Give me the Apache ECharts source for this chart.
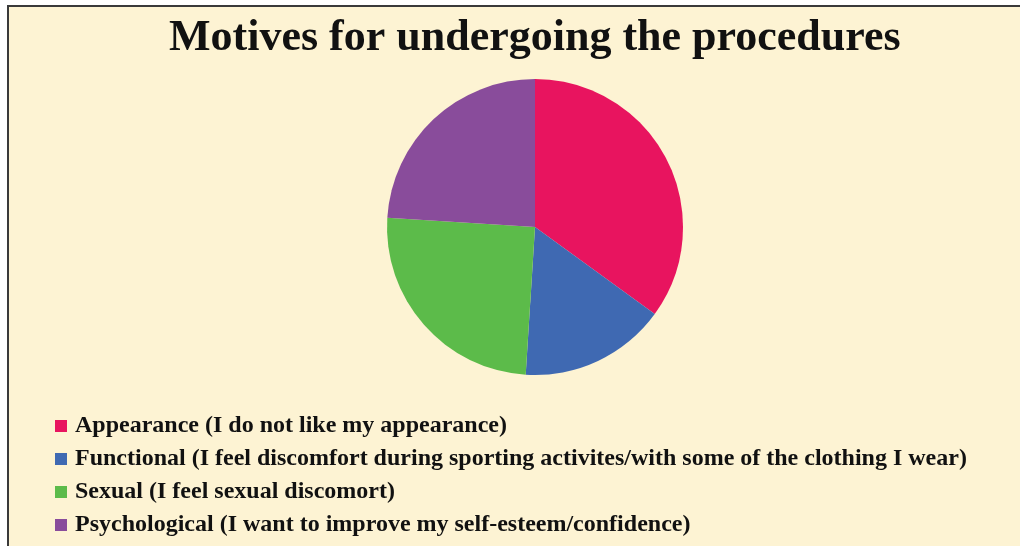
<!DOCTYPE html>
<html>
<head>
<meta charset="utf-8">
<script src="https://cdn.jsdelivr.net/npm/echarts@6/dist/echarts.min.js"></script>
<style>
html,body{margin:0;padding:0;background:#ffffff;}
#chart{width:1020px;height:546px;}
</style>
</head>
<body>
<div id="chart"></div>
<script>
const titleText = 'Motives for undergoing the procedures';
const categories = [
  'Appearance (I do not like my appearance)',
  'Functional (I feel discomfort during sporting activites/with some of the clothing I wear)',
  'Sexual (I feel sexual discomort)',
  'Psychological (I want to improve my self-esteem/confidence)'
];
const values = [35, 16, 25, 24];
const colors = ['#E8145F', '#3F69B2', '#5CBB4A', '#894C9B'];

const chart = echarts.init(document.getElementById('chart'), null, {renderer: 'canvas'});
chart.setOption({
  animation: false,
  backgroundColor: '#ffffff',
  color: colors,
  graphic: [{
    type: 'rect',
    z: -10,
    shape: {x: 8, y: 6, width: 1030, height: 560},
    style: {fill: '#FDF3D3', stroke: '#3a3a3a', lineWidth: 2}
  }],
  title: {
    text: titleText,
    left: 164,
    top: 12,
    textStyle: {
      fontFamily: 'Liberation Serif',
      fontWeight: 'bold',
      fontSize: 44,
      color: '#111111'
    }
  },
  legend: {
    orient: 'vertical',
    left: 50,
    top: 409,
    itemWidth: 12,
    itemHeight: 12,
    itemGap: 9,
    icon: 'rect',
    selectedMode: false,
    textStyle: {
      fontFamily: 'Liberation Serif',
      fontWeight: 'bold',
      fontSize: 24,
      lineHeight: 24,
      color: '#111111',
      padding: [0, 0, 0, 3]
    },
    data: categories
  },
  series: [{
    type: 'pie',
    center: [535, 227],
    radius: 148,
    startAngle: 90,
    clockwise: true,
    label: {show: false},
    labelLine: {show: false},
    emphasis: {disabled: true},
    itemStyle: {borderWidth: 0},
    data: categories.map((c, i) => ({name: c, value: values[i]}))
  }]
});
</script>
</body>
</html>
